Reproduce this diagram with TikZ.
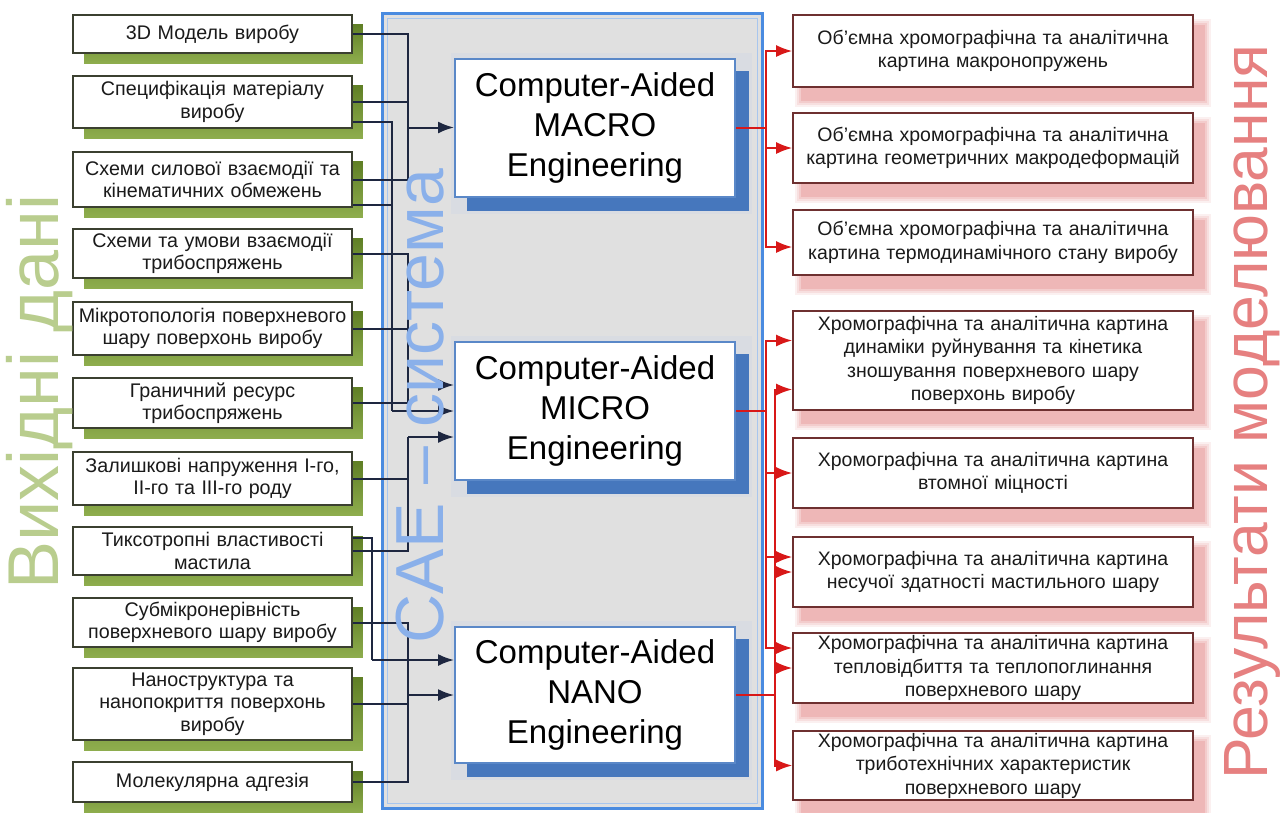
\documentclass[tikz,border=0pt]{standalone}
\usepackage{fontspec}
\setmainfont{Liberation Sans}
\usetikzlibrary{arrows.meta,calc}

\definecolor{olTop}{HTML}{5F7F25}
\definecolor{olBot}{HTML}{8FAE4E}
\definecolor{inBorder}{HTML}{3B4030}
\definecolor{caeFill}{HTML}{E0E0E0}
\definecolor{caeBorder}{HTML}{4A8BE0}
\definecolor{caeInner}{HTML}{A8C6EE}
\definecolor{caeText}{HTML}{8AB0EA}
\definecolor{engBorder}{HTML}{5A88C8}
\definecolor{engShadow}{HTML}{4677BD}
\definecolor{engHalo}{HTML}{CCD7E8}
\definecolor{outBorder}{HTML}{6E3030}
\definecolor{outShadow}{HTML}{E07070}
\definecolor{navyLine}{HTML}{1E2740}
\definecolor{redLine}{HTML}{D81818}
\definecolor{greenTitle}{HTML}{B9CD8E}
\definecolor{redTitle}{HTML}{E68080}
\definecolor{bodyText}{HTML}{1A1A1A}

\pgfdeclarelayer{back}
\pgfdeclarelayer{bg}
\pgfsetlayers{back,bg,main}

\tikzset{
  inbox/.style={draw=inBorder, line width=1.6pt, fill=white, text=bodyText,
    text width=270pt, inner xsep=4.5pt, inner ysep=0pt, align=center,
    font=\fontsize{19.7}{22.5}\selectfont},
  outbox/.style={draw=outBorder, line width=1.6pt, fill=white, text=bodyText,
    text width=390pt, inner xsep=5pt, inner ysep=0pt, align=center,
    font=\fontsize{19.5}{23.5}\selectfont},
  engbox/.style={draw=engBorder, line width=2pt, fill=white, text=black,
    text width=270pt, inner xsep=5pt, inner ysep=0pt, align=center,
    minimum height=138pt, font=\fontsize{33}{40}\selectfont},
  conn/.style={draw=navyLine, line width=2pt},
  arr/.style={conn, -{Latex[length=16pt,width=12pt]}},
  rconn/.style={draw=redLine, line width=2pt},
  rarr/.style={rconn, -{Latex[length=16pt,width=12pt]}},
}

\newcommand\inputbox[4]{\node[inbox, minimum height=#3] (#1) at (212.5,#2) {#4};}
\newcommand\resultbox[4]{\node[outbox, minimum height=#3] (#1) at (993,#2) {#4};}

\begin{document}
\begin{tikzpicture}[x=1pt,y=-1pt]
\useasboundingbox (0,0) rectangle (1284,812);

% page and CAE system frame
\begin{pgfonlayer}{back}
  \fill[white] (0,0) rectangle (1284,812);
  \fill[caeFill] (382,13) rectangle (762,808);
  \draw[caeInner, line width=1pt] (387,18) rectangle (757,803);
  \draw[caeBorder, line width=3pt] (382,13) rectangle (762,808);
\end{pgfonlayer}

% input data
\inputbox{in1}{34}{38pt}{3D Модель виробу}
\inputbox{in2}{102}{52pt}{Специфікація матеріалу\\виробу}
\inputbox{in3}{179.5}{55pt}{Схеми силової взаємодії та\\кінематичних обмежень}
\inputbox{in4}{253.5}{49pt}{Схеми та умови взаємодії\\трибоспряжень}
\inputbox{in5}{328.5}{53pt}{Мікротопологія поверхневого\\шару поверхонь виробу}
\inputbox{in6}{403}{50pt}{Граничний ресурс\\трибоспряжень}
\inputbox{in7}{478.5}{53pt}{Залишкові напруження І-го,\\ІІ-го та ІІІ-го роду}
\inputbox{in8}{551}{48pt}{Тиксотропні властивості\\мастила}
\inputbox{in9}{622.5}{49pt}{Субмікронерівність\\поверхневого шару виробу}
\inputbox{in10}{704}{72pt}{Наноструктура та\\нанопокриття поверхонь\\виробу}
\inputbox{in11}{782}{40pt}{Молекулярна адгезія}

% engineering levels
\node[engbox] (macro) at (595,127.5) {Computer-Aided\\MACRO\\Engineering};
\node[engbox] (micro) at (595,411) {Computer-Aided\\MICRO\\Engineering};
\node[engbox, minimum height=136pt] (nano) at (595,695) {Computer-Aided\\NANO\\Engineering};

% modelling results
\resultbox{out1}{51}{72pt}{Об’ємна хромографічна та аналітична\\картина макронопружень}
\resultbox{out2}{148}{70pt}{Об’ємна хромографічна та аналітична\\картина геометричних макродеформацій}
\resultbox{out3}{242.5}{65pt}{Об’ємна хромографічна та аналітична\\картина термодинамічного стану виробу}
\resultbox{out4}{360.5}{99pt}{Хромографічна та аналітична картина\\динаміки руйнування та кінетика\\зношування поверхневого шару\\поверхонь виробу}
\resultbox{out5}{473}{70pt}{Хромографічна та аналітична картина\\втомної міцності}
\resultbox{out6}{572}{70pt}{Хромографічна та аналітична картина\\несучої здатності мастильного шару}
\resultbox{out7}{668}{70pt}{Хромографічна та аналітична картина\\тепловідбиття та теплопоглинання\\поверхневого шару}
\resultbox{out8}{765.5}{69pt}{Хромографічна та аналітична картина\\триботехнічних характеристик\\поверхневого шару}

% shadows
\begin{pgfonlayer}{bg}
  \foreach \n in {in1,in2,in3,in4,in5,in6,in7,in8,in9,in10,in11}{
    \shade[top color=olTop, bottom color=olBot]
      ($(\n.north west)+(12,10)$) rectangle ($(\n.south east)+(10,10)$);
  }
  \foreach \n in {macro,micro,nano}{
    \fill[engHalo, opacity=0.35] ($(\n.north west)+(-3,-5)$) rectangle ($(\n.south east)+(16,16)$);
    \fill[engShadow] ($(\n.north west)+(13,13)$) rectangle ($(\n.south east)+(13,13)$);
  }
  \foreach \n in {out1,out2,out3,out4,out5,out6,out7,out8}{
    \foreach \e/\o in {7/0.10,5/0.13,3/0.17,1/0.22}{
      \fill[outShadow, opacity=\o]
        ($(\n.north west)+(10-\e,12-\e)$) rectangle ($(\n.south east)+(10+\e,12+\e)$);
    }
  }
\end{pgfonlayer}

% bus positions
\coordinate (xA) at (408,0);
\coordinate (xB) at (392,0);
\coordinate (xC) at (372,0);
\coordinate (xR) at (766,0);
\coordinate (xS) at (775,0);

% inputs -> MACRO
\coordinate (jM) at (xA |- macro.west);
\draw[conn] (in1.east) -| (jM);
\draw[conn] (in2.east) -| (jM);
\draw[conn] (in3.east) -| (jM);
\draw[arr] (jM) -- (macro.west);

% inputs -> MICRO
\coordinate (jB) at (xB |- micro.west);
\draw[conn] ([yshift=-20pt]in2.east) -| (jB);
\draw[conn] ([yshift=-25pt]in3.east) -| (jB);
\draw[arr] (jB) -- (micro.west);

\coordinate (mC) at ([yshift=26pt]micro.west);
\coordinate (jC) at (xA |- mC);
\draw[conn] (in4.east) -| (jC);
\draw[conn] (in5.east) -| (jC);
\draw[conn] (in6.east) -| (jC);
\draw[arr] (jC) -- (mC);

\coordinate (mD) at ([yshift=-26pt]micro.west);
\coordinate (jD) at (xA |- mD);
\draw[conn] (in7.east) -| (jD);
\draw[conn] (in8.east) -| (jD);
\draw[arr] (jD) -- (mD);

% inputs -> NANO
\coordinate (nF) at ([yshift=35pt]nano.west);
\coordinate (jF) at (xC |- nF);
\draw[conn] ([yshift=13pt]in8.east) -| (jF);
\draw[arr] (jF) -- (nF);

\coordinate (jE) at (xA |- nano.west);
\draw[conn] (in9.east) -| (jE);
\draw[conn] (in10.east) -| (jE);
\draw[conn] (in11.east) -| (jE);
\draw[arr] (jE) -- (nano.west);

% MACRO -> results
\coordinate (rM) at (xR |- macro.east);
\draw[rconn] (macro.east) -- (rM);
\draw[rarr] (rM) |- (out1.west);
\draw[rarr] (rM) |- (out2.west);
\draw[rarr] (rM) |- ([yshift=-4.5pt]out3.west);

% MICRO -> results
\coordinate (rI) at (xR |- micro.east);
\draw[rconn] (micro.east) -- (rI);
\draw[rarr] (rI) |- ([yshift=20pt]out4.west);
\draw[rarr] (rI) |- (out5.west);
\draw[rarr] (rI) |- ([yshift=15pt]out6.west);
\draw[rarr] (rI) |- ([yshift=20pt]out7.west);

% NANO -> results
\coordinate (rN) at (xS |- nano.east);
\draw[rconn] (nano.east) -- (rN);
\draw[rarr] (rN) |- ([yshift=-29pt]out4.west);
\draw[rarr] (rN) |- (out6.west);
\draw[rarr] (rN) |- (out7.west);
\draw[rarr] (rN) |- (out8.west);

% vertical titles
\node[rotate=90, text=caeText, font=\fontsize{68}{68}\selectfont] (cae) at (420,406) {CAE – система};
\node[rotate=90, text=greenTitle, font=\fontsize{72}{72}\selectfont] (src) at (40,392) {Вихідні дані};
\node[rotate=90, text=redTitle, font=\fontsize{62.5}{62.5}\selectfont] (res) at (1252,412) {Результати моделювання};
\end{tikzpicture}
\end{document}
